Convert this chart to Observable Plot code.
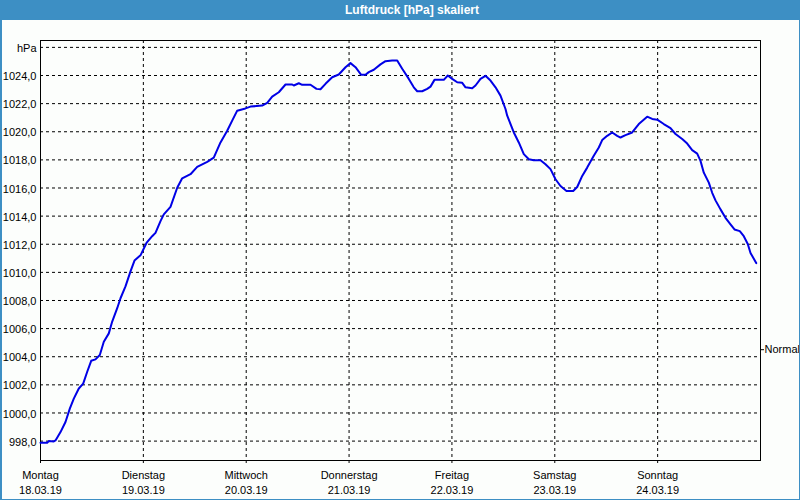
<!DOCTYPE html>
<html>
<head>
<meta charset="utf-8">
<script src="https://cdn.jsdelivr.net/npm/d3@7"></script>
<script src="https://cdn.jsdelivr.net/npm/@observablehq/plot@0.6"></script>
<style>
html, body { margin: 0; padding: 0; background: #fcfefc; }
#win { position: relative; width: 800px; height: 500px; overflow: hidden; background: #fcfefc; font-family: "Liberation Sans", Arial, sans-serif; }
#title { position: absolute; left: 0; top: 0; width: 800px; height: 20px; background: #3d8fc4; color: #fff; font-weight: bold; font-size: 12px; line-height: 20px; }
#title span { position: absolute; left: 412px; top: 0; transform: translateX(-50%); white-space: nowrap; }
#border { position: absolute; left: 0; top: 0; width: 800px; height: 500px; box-sizing: border-box; border: 1px solid #3d8fc4; border-left-width: 2px; pointer-events: none; z-index: 2; }
#chart { position: absolute; left: 0; top: 20px; }
</style>
</head>
<body>
<div id="win">
  <div id="title"><span>Luftdruck [hPa] skaliert</span></div>
  <div id="chart"></div>
  <div id="border"></div>
</div>
<script>
// Day ticks (hours since Monday 18.03.19 00:00)
const dayHours = [0, 24, 48, 72, 96, 120, 144];
const dayNames = ["Montag", "Dienstag", "Mittwoch", "Donnerstag", "Freitag", "Samstag", "Sonntag"];
const dayDates = ["18.03.19", "19.03.19", "20.03.19", "21.03.19", "22.03.19", "23.03.19", "24.03.19"];

// Y ticks
const yTicks = [998, 1000, 1002, 1004, 1006, 1008, 1010, 1012, 1014, 1016, 1018, 1020, 1022, 1024, 1026];
const yUnit = "hPa";
const normalValue = 1004.5;
const normalLabel = "Normal";

// Series: hours since start and pressure in hPa
const hours = [
  0, 1.56, 1.94, 3.1, 3.5, 4.67, 5.83, 6.84, 7.77, 8.94, 9.96, 10.9, 11.83, 12.83, 13.84,
  14.77, 15.94, 16.73, 17.9, 18.67, 19.83, 21.0, 21.93, 23.33, 24.73, 26.06, 26.83, 28.0,
  28.77, 30.33, 31.9, 33.06, 35.0, 36.56, 38.9, 40.43, 42.0, 43.56, 44.73, 45.9, 47.83,
  49.0, 51.73, 52.9, 54.06, 55.6, 57.17, 58.73, 59.1, 60.27, 61.06, 63.0, 64.4, 65.33,
  66.5, 68.06, 69.6, 71.17, 72.33, 73.5, 74.83, 75.83, 76.6, 77.77, 79.33, 80.5, 82.06,
  83.23, 84.4, 85.94, 87.1, 87.9, 89.06, 90.23, 91.0, 91.93, 94.1, 95.04, 96.06, 97.23,
  98.4, 99.17, 100.73, 101.5, 102.67, 103.83, 105.0, 106.17, 107.33, 108.5, 108.9, 110.44,
  111.6, 112.77, 113.94, 115.1, 116.67, 117.83, 119.0, 120.17, 121.33, 122.73, 124.3,
  125.23, 126.4, 127.56, 129.1, 130.27, 131.06, 132.23, 133.4, 134.56, 135.33, 136.5,
  138.06, 139.6, 141.56, 142.73, 143.9, 145.43, 147.0, 148.17, 149.73, 150.9, 152.06,
  153.23, 154.0, 154.77, 155.94, 156.73, 157.5, 158.67, 159.83, 161.0, 161.93, 163.17,
  164.1, 165.03, 165.67, 167.0
];
const pressure = [
  997.88, 997.88, 998.0, 997.98, 998.05, 998.64, 999.36, 1000.31, 1001.02, 1001.74, 1002.09, 1002.93, 1003.71, 1003.81, 1004.12,
  1005.07, 1005.66, 1006.5, 1007.45, 1008.16, 1009.0, 1010.07, 1010.84, 1011.21, 1012.09, 1012.57, 1012.81, 1013.64,
  1014.12, 1014.66, 1016.02, 1016.69, 1016.98, 1017.5, 1017.86, 1018.16, 1019.24, 1020.07, 1020.79, 1021.5, 1021.66,
  1021.79, 1021.86, 1022.05, 1022.5, 1022.81, 1023.36, 1023.36, 1023.29, 1023.45, 1023.34, 1023.34, 1023.05, 1023.02,
  1023.41, 1023.88, 1024.07, 1024.59, 1024.88, 1024.59, 1024.05, 1024.05, 1024.24, 1024.41, 1024.79, 1025.02, 1025.07,
  1025.07, 1024.48, 1023.76, 1023.16, 1022.88, 1022.88, 1023.05, 1023.21, 1023.69, 1023.69, 1024.0, 1023.76, 1023.52,
  1023.48, 1023.16, 1023.09, 1023.29, 1023.76, 1023.98, 1023.64, 1023.16, 1022.57, 1021.62, 1021.14, 1019.95,
  1019.24, 1018.41, 1018.05, 1017.98, 1017.98, 1017.69, 1017.34, 1016.62, 1016.14, 1015.79, 1015.79,
  1016.07, 1016.86, 1017.45, 1018.29, 1018.88, 1019.41, 1019.71, 1019.95, 1019.71, 1019.59, 1019.76,
  1019.95, 1020.55, 1021.07, 1020.91, 1020.86, 1020.55, 1020.26, 1019.84, 1019.48, 1019.16, 1018.69,
  1018.45, 1017.93, 1017.09, 1016.38, 1015.66, 1015.12, 1014.48, 1013.88, 1013.41, 1013.05, 1012.93,
  1012.57, 1012.02, 1011.38, 1010.66
];

const fmtY = d => d === 1026 ? yUnit : d.toFixed(1).replace(".", ",");

const chart = Plot.plot({
  width: 800,
  height: 480,
  marginLeft: 40,
  marginRight: 40,
  marginTop: 20,
  marginBottom: 40,
  style: { background: "transparent", fontFamily: "'Liberation Sans', Arial, sans-serif", fontSize: "11px", color: "#000" },
  x: { domain: [0, 168], axis: null },
  y: { domain: [996.62, 1026.49], axis: null },
  marks: [
    Plot.gridY(yTicks, { stroke: "#000", strokeOpacity: 1, strokeDasharray: "3,3" }),
    Plot.gridX(dayHours.slice(1), { stroke: "#000", strokeOpacity: 1, strokeDasharray: "3,3" }),
    Plot.frame({ stroke: "#000" }),
    Plot.axisY(yTicks, { anchor: "left", tickSize: 0, tickPadding: 4, dy: 1, tickFormat: fmtY, label: null }),
    Plot.axisY([normalValue], { anchor: "right", tickSize: 3, tickPadding: 1, tickFormat: () => normalLabel, label: null }),
    Plot.axisX(dayHours, { anchor: "bottom", tickSize: 3, tickPadding: 8, tickFormat: d => dayNames[dayHours.indexOf(d)], label: null }),
    Plot.axisX(dayHours, { anchor: "bottom", tickSize: 0, tickPadding: 26, tickFormat: d => dayDates[dayHours.indexOf(d)], label: null }),
    Plot.line(pressure, { x: hours, y: pressure, stroke: "#0000e6", strokeWidth: 2 })
  ]
});
document.getElementById("chart").appendChild(chart);
</script>
</body>
</html>
